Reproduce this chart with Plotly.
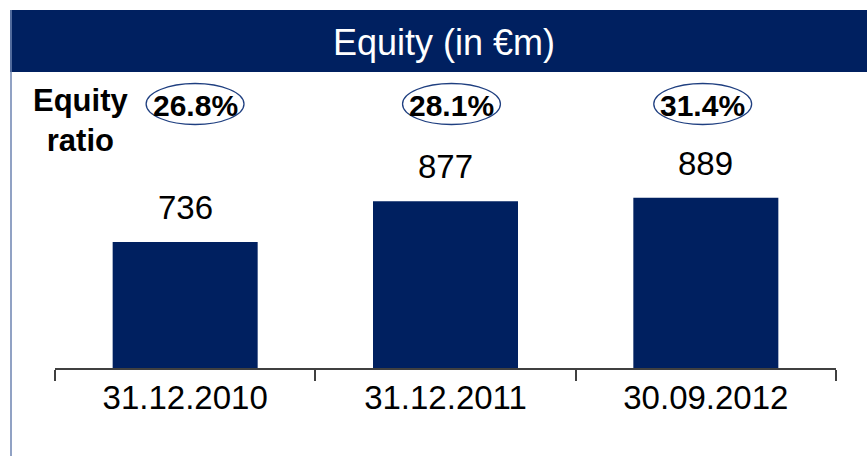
import plotly.graph_objects as go

# ---- data ----
dates = ["31.12.2010", "31.12.2011", "30.09.2012"]
equity = [736, 877, 889]
equity_ratio = ["26.8%", "28.1%", "31.4%"]

NAVY = "#002060"
FONT = "Liberation Sans, Arial, sans-serif"

W, H = 867, 456
L, R, T, B = 55, 31, 72, 88
PW, PH = W - L - R, H - T - B


def px_x(p):
    return (p - L) / PW


def px_y(p):
    return (H - B - p) / PH


fig = go.Figure()
fig.add_trace(go.Bar(
    x=dates,
    y=equity,
    marker=dict(color=NAVY, line=dict(width=0)),
    hoverinfo="skip",
))

shapes = []
annotations = []

# header band
shapes.append(dict(type="rect", xref="paper", yref="paper",
                   x0=px_x(10), x1=px_x(880), y0=px_y(72), y1=px_y(10),
                   fillcolor=NAVY, line=dict(width=0), layer="above"))
# left border
shapes.append(dict(type="line", xref="paper", yref="paper",
                   x0=px_x(11), x1=px_x(11), y0=px_y(10), y1=px_y(470),
                   line=dict(color="#6C83B0", width=1.5)))

annotations.append(dict(text="Equity (in €m)", xref="paper", yref="paper",
                        x=px_x(444), y=px_y(42), xanchor="center", yanchor="middle",
                        showarrow=False, font=dict(family=FONT, size=36, color="white")))

annotations.append(dict(text="<b>Equity<br>ratio</b>", xref="paper", yref="paper",
                        x=px_x(80), y=px_y(120), xanchor="center", yanchor="middle",
                        showarrow=False, align="center",
                        font=dict(family=FONT, size=31, color="black")))

ell_offsets = [0.038, 0.023, -0.012]
for i, (v, r) in enumerate(zip(equity, equity_ratio)):
    cx = i + ell_offsets[i]
    shapes.append(dict(type="circle", xref="x", yref="paper",
                       x0=cx - 0.188, x1=cx + 0.188,
                       y0=px_y(124.5), y1=px_y(83.5),
                       line=dict(color="#1F3F80", width=1.3)))
    annotations.append(dict(text=f"<b>{r}</b>", xref="x", yref="paper",
                            x=cx, y=px_y(105), xanchor="center", yanchor="middle",
                            showarrow=False,
                            font=dict(family=FONT, size=30, color="black")))
    annotations.append(dict(text=str(v), xref="x", yref="y",
                            x=i, y=v, xanchor="center", yanchor="bottom",
                            yshift=14, showarrow=False,
                            font=dict(family=FONT, size=33, color="black")))

fig.update_layout(
    width=W, height=H,
    margin=dict(l=L, r=R, t=T, b=B, pad=0),
    paper_bgcolor="white", plot_bgcolor="white",
    showlegend=False,
    bargap=0.443,
    shapes=shapes,
    annotations=annotations,
    xaxis=dict(
        type="category", range=[-0.5, 2.5], showgrid=False, zeroline=False,
        showline=True, linecolor="#404040", linewidth=1.5,
        ticks="outside", tickson="boundaries", ticklen=11, tickcolor="#404040", tickwidth=1.5,
        tickfont=dict(family=FONT, size=33, color="black"),
    ),
    yaxis=dict(range=[300, 1324], visible=False, showgrid=False, zeroline=False),
)

fig.write_html("out.html", config={"displayModeBar": False},
               post_script="document.body.style.margin='0px';")
